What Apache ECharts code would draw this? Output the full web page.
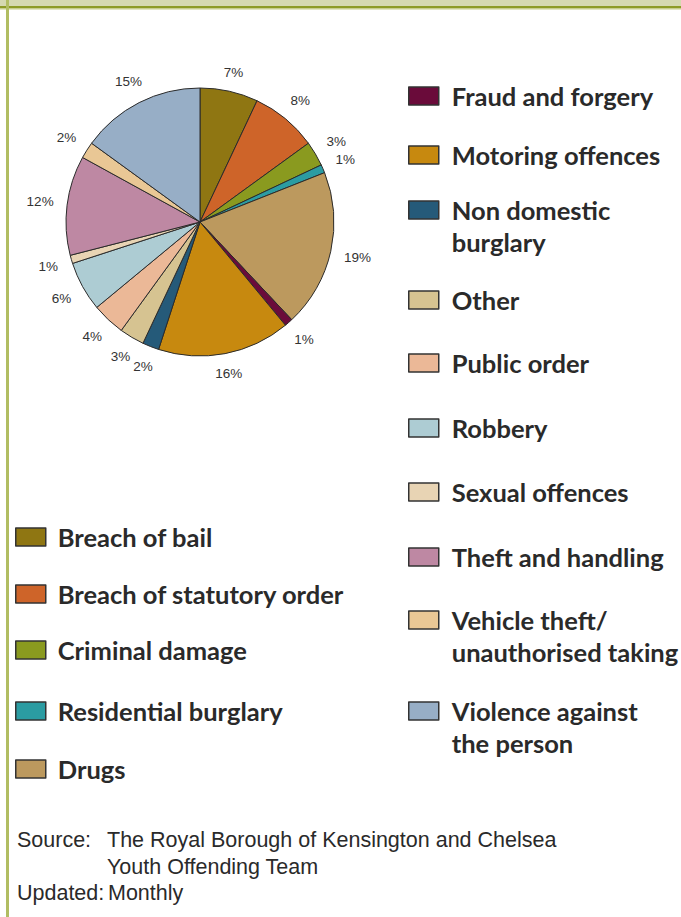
<!DOCTYPE html>
<html><head><meta charset="utf-8">
<script src="https://cdn.jsdelivr.net/npm/echarts@6/dist/echarts.min.js"></script>
<style>html,body{margin:0;padding:0;background:#fff}#c{width:681px;height:917px}</style>
</head><body><div id="c"></div>
<script>
// ---- data ----
const categories = ['Breach of bail','Breach of statutory order','Criminal damage','Residential burglary','Drugs','Fraud and forgery','Motoring offences','Non domestic burglary','Other','Public order','Robbery','Sexual offences','Theft and handling','Vehicle theft/ unauthorised taking','Violence against the person'];
const values = [7, 8, 3, 1, 19, 1, 16, 2, 3, 4, 6, 1, 12, 2, 15];
const legendText = ['Breach of bail','Breach of statutory order','Criminal damage','Residential burglary','Drugs','Fraud and forgery','Motoring offences','Non domestic\nburglary','Other','Public order','Robbery','Sexual offences','Theft and handling','Vehicle theft/\nunauthorised taking','Violence against\nthe person'];
const colors = ['#8F7612','#CE6429','#8A9A1F','#2B9CA2','#BC995E','#6A0B3A','#C7890F','#255A79','#D6C391','#EBB897','#ADCCD3','#E8D4B4','#BE88A3','#E9C795','#97AEC6'];
const sourceLabel = 'Source:';
const sourceLines = ['The Royal Borough of Kensington and Chelsea', 'Youth Offending Team'];
const updatedLabel = 'Updated:';
const updatedValue = 'Monthly';

// ---- layout ----
const CX = 200, CY = 222, R = 134;
const total = values.reduce((a, b) => a + b, 0);
const midAngles = [];
{ let acc = 0; values.forEach(v => { midAngles.push((acc + v / 2) / total * 2 * Math.PI); acc += v; }); }

// legend placement: [columnX, iconTop, textPadLeft]
const legendPlace = [
  [15, 528, 7], [15, 585, 7], [15, 641, 7], [15, 702, 7], [15, 760, 7],
  [408, 87, 8], [408, 146, 8], [408, 201, 8], [408, 291, 8], [408, 354, 8],
  [408, 419, 8], [408, 483, 8], [408, 548, 8], [408, 611, 8], [408, 702, 8]
];
const FS = 25.5, IH = 18, LH = 31.5;
const legends = categories.map((name, i) => {
  const [x, top, pl] = legendPlace[i];
  const two = legendText[i].indexOf('\n') >= 0;
  const shown = two ? '\n' + legendText[i] : legendText[i];
  const n = two ? 3 : 1;
  const off = Math.max(0, n * LH / 2 - IH / 2);
  return {
    show: true, data: [name], left: x, top: top - off, orient: 'vertical', padding: 0,
    itemWidth: 30, itemHeight: IH, icon: 'rect', selectedMode: false,
    itemStyle: { borderColor: '#333', borderWidth: 1.5 },
    formatter: () => shown,
    textStyle: { fontFamily: 'Lato', fontWeight: 'bold', fontSize: FS, color: '#2a2a2a', lineHeight: LH, padding: [0, 0, 0, pl] }
  };
});

const txt = (text, x, y) => ({ type: 'text', x: x, y: y, style: { text: text, x: 0, y: 0, font: '21.5px "Liberation Sans"', fill: '#2a2a2a', verticalAlign: 'middle', textVerticalAlign: 'middle' } });

const chart = echarts.init(document.getElementById('c'), null, { renderer: 'svg' });
chart.setOption({
  backgroundColor: '#fff',
  animation: false,
  color: colors,
  legend: legends,
  graphic: [
    { type: 'rect', shape: { x: 0, y: 0, width: 681, height: 6 }, style: { fill: '#D5D9B0' } },
    { type: 'rect', shape: { x: 0, y: 6, width: 681, height: 2.5 }, style: { fill: '#8D9B26' } },
    { type: 'rect', shape: { x: 0, y: 8.5, width: 681, height: 1 }, style: { fill: '#C5CE86' } },
    { type: 'rect', shape: { x: 6, y: 0, width: 3, height: 917 }, style: { fill: '#B1BD62' } },
    txt(sourceLabel, 17, 840),
    txt(sourceLines[0], 107, 840),
    txt(sourceLines[1], 107, 867),
    txt(updatedLabel, 17, 893),
    txt(updatedValue, 108, 893)
  ],
  series: [{
    type: 'pie',
    center: [CX, CY],
    radius: R,
    startAngle: 90,
    clockwise: true,
    avoidLabelOverlap: false,
    itemStyle: { borderColor: '#2b2b2b', borderWidth: 1 },
    emphasis: { disabled: true },
    label: { show: true, formatter: '{c}%', fontFamily: 'Liberation Sans', fontSize: 13.5, color: '#333' },
    labelLine: { show: false },
    labelLayout: function (p) {
      const a = midAngles[p.dataIndex];
      const sx = Math.sin(a), cy = -Math.cos(a);
      const w = p.labelRect.width;
      const d = R + 11 + Math.abs(sx) * (w / 2 + 2) + Math.abs(cy) * 6;
      return { x: CX + sx * d, y: CY + cy * d, align: 'center', verticalAlign: 'middle' };
    },
    data: categories.map((n, i) => ({ name: n, value: values[i] }))
  }]
});
</script></body></html>
